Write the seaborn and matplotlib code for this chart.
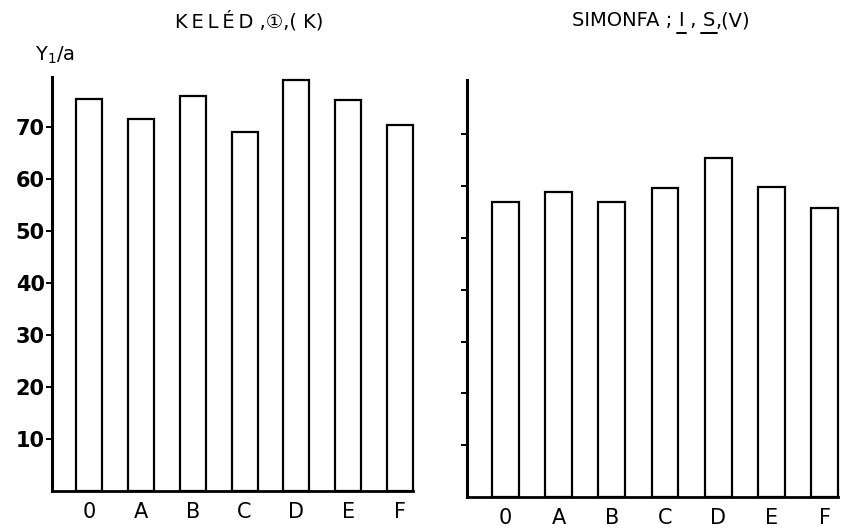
import matplotlib
matplotlib.use("Agg")
import matplotlib.pyplot as plt
from matplotlib.lines import Line2D
import seaborn as sns
import pandas as pd

# Yield per treatment at the two sites
categories = ["0", "A", "B", "C", "D", "E", "F"]
keled_yield = [75.3, 71.5, 76.0, 69.0, 79.0, 75.1, 70.4]
simonfa_yield = [57.0, 58.9, 57.0, 59.7, 65.4, 59.9, 55.8]
y_ticks = [10, 20, 30, 40, 50, 60, 70]

sns.set_theme(style="white")
plt.rcParams["font.family"] = ["DejaVu Sans", "Noto Sans CJK JP"]
plt.rcParams.update({"text.color": "black", "axes.labelcolor": "black",
                     "xtick.color": "black", "ytick.color": "black",
                     "mathtext.fontset": "dejavusans"})

W, H = 849, 532
fig = plt.figure(figsize=(W / 100, H / 100), dpi=100)
ax_l = fig.add_axes([0.0609, 0.0771, 0.4256, 0.779])
ax_r = fig.add_axes([0.5500, 0.0658, 0.4370, 0.7838])

df_l = pd.DataFrame({"treat": categories, "y": keled_yield})
df_r = pd.DataFrame({"treat": categories, "y": simonfa_yield})

for ax, df, top in ((ax_l, df_l, 79.7), (ax_r, df_r, 80.5)):
    sns.barplot(data=df, x="treat", y="y", ax=ax, color="white",
                edgecolor="black", linewidth=1.6, width=0.5, saturation=1)
    for p in ax.patches:
        p.set_clip_on(False)
    ax.set_xlim(-0.72, 6.25)
    ax.set_ylim(0, top)
    ax.set_xlabel("")
    ax.set_ylabel("")
    ax.set_facecolor("white")
    for side in ("top", "right"):
        ax.spines[side].set_visible(False)
    ax.spines["left"].set_linewidth(2.2)
    ax.spines["bottom"].set_linewidth(2.0)
    ax.spines["left"].set_color("black")
    ax.spines["bottom"].set_color("black")
    ax.set_yticks(y_ticks)
    ax.tick_params(axis="y", which="major", left=True, direction="out",
                   length=4, width=1.4, color="black", pad=1,
                   labelsize=15, labelcolor="black")
    ax.tick_params(axis="x", which="major", bottom=False, length=0,
                   pad=8, labelsize=15, labelcolor="black")
    for lab in ax.get_yticklabels():
        lab.set_fontweight("bold")

ax_r.set_yticklabels([])

# Title of the left panel
fig.text(249 / W, 1 - 21 / H,
         "K\u2009E\u2009L\u2009É\u2009D ,①,( K)",
         ha="center", va="center", fontsize=14)

# Title of the right panel, with the underlined site codes
fig.canvas.draw()
renderer = fig.canvas.get_renderer()
pieces = ["SIMONFA ; ", "I", " , ", "S", ",(V)"]
underlined = {1, 3}
x_px = 572.0
y_px = H - 21.0
for i, piece in enumerate(pieces):
    t = fig.text(x_px / W, y_px / H, piece, ha="left", va="center",
                 fontsize=14)
    bb = t.get_window_extent(renderer=renderer)
    if i in underlined:
        ux0 = (bb.x0 - 2) / W
        ux1 = (bb.x1 + 2) / W
        uy = (bb.y0 - 2) / H
        fig.add_artist(Line2D([ux0, ux1], [uy, uy], transform=fig.transFigure,
                              color="black", linewidth=1.4))
    x_px = bb.x1

# Axis unit label
fig.text(55 / W, 1 - 55 / H, r"Y$_{1}$/a", ha="center", va="center",
         fontsize=14)

fig.savefig("out.png", dpi=100, facecolor="white")
